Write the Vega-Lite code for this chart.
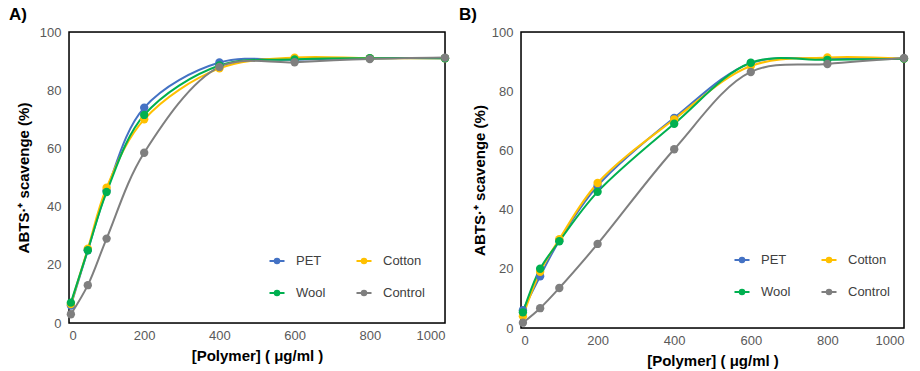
{
  "$schema": "https://vega.github.io/schema/vega-lite/v6.json",
  "padding": {"left": 8, "top": 5, "right": 5, "bottom": 2},
  "config": {
    "font": "Liberation Sans",
    "axis": {"grid": false, "ticks": false, "domain": false, "labelFontSize": 13, "labelColor": "#595959", "titleFontSize": 15, "titleFontWeight": "bold", "titleColor": "#000000", "labelFont": "Liberation Sans", "titleFont": "Liberation Sans"},
    "title": {"fontSize": 17, "fontWeight": "bold", "anchor": "start", "frame": "group", "color": "#000000"},
    "concat": {"spacing": 8}
  },
  "datasets": {
    "frame": [{"x0": 0, "x1": 1000, "y0": 0, "y1": 100}],
    "d": [
      {"panel": "A", "series": "PET", "x": 5, "y": 6},
      {"panel": "A", "series": "PET", "x": 50, "y": 25},
      {"panel": "A", "series": "PET", "x": 100, "y": 45.5},
      {"panel": "A", "series": "PET", "x": 200, "y": 74},
      {"panel": "A", "series": "PET", "x": 400, "y": 89.5},
      {"panel": "A", "series": "PET", "x": 600, "y": 90.5},
      {"panel": "A", "series": "PET", "x": 800, "y": 91},
      {"panel": "A", "series": "PET", "x": 1000, "y": 91},
      {"panel": "A", "series": "Cotton", "x": 5, "y": 6.5},
      {"panel": "A", "series": "Cotton", "x": 50, "y": 25.5},
      {"panel": "A", "series": "Cotton", "x": 100, "y": 46.5},
      {"panel": "A", "series": "Cotton", "x": 200, "y": 70},
      {"panel": "A", "series": "Cotton", "x": 400, "y": 87.5},
      {"panel": "A", "series": "Cotton", "x": 600, "y": 91.2},
      {"panel": "A", "series": "Cotton", "x": 800, "y": 91},
      {"panel": "A", "series": "Cotton", "x": 1000, "y": 91},
      {"panel": "A", "series": "Wool", "x": 5, "y": 7},
      {"panel": "A", "series": "Wool", "x": 50, "y": 25},
      {"panel": "A", "series": "Wool", "x": 100, "y": 45},
      {"panel": "A", "series": "Wool", "x": 200, "y": 71.5},
      {"panel": "A", "series": "Wool", "x": 400, "y": 88.5},
      {"panel": "A", "series": "Wool", "x": 600, "y": 90.6},
      {"panel": "A", "series": "Wool", "x": 800, "y": 91},
      {"panel": "A", "series": "Wool", "x": 1000, "y": 91},
      {"panel": "A", "series": "Control", "x": 5, "y": 3},
      {"panel": "A", "series": "Control", "x": 50, "y": 13},
      {"panel": "A", "series": "Control", "x": 100, "y": 29},
      {"panel": "A", "series": "Control", "x": 200, "y": 58.5},
      {"panel": "A", "series": "Control", "x": 400, "y": 88},
      {"panel": "A", "series": "Control", "x": 600, "y": 89.6},
      {"panel": "A", "series": "Control", "x": 800, "y": 90.7},
      {"panel": "A", "series": "Control", "x": 1000, "y": 91.2},
      {"panel": "B", "series": "PET", "x": 5, "y": 6},
      {"panel": "B", "series": "PET", "x": 50, "y": 17.5},
      {"panel": "B", "series": "PET", "x": 100, "y": 29.5},
      {"panel": "B", "series": "PET", "x": 200, "y": 48},
      {"panel": "B", "series": "PET", "x": 400, "y": 71},
      {"panel": "B", "series": "PET", "x": 600, "y": 89.5},
      {"panel": "B", "series": "PET", "x": 800, "y": 91},
      {"panel": "B", "series": "PET", "x": 1000, "y": 91},
      {"panel": "B", "series": "Cotton", "x": 5, "y": 4},
      {"panel": "B", "series": "Cotton", "x": 50, "y": 19},
      {"panel": "B", "series": "Cotton", "x": 100, "y": 30},
      {"panel": "B", "series": "Cotton", "x": 200, "y": 49},
      {"panel": "B", "series": "Cotton", "x": 400, "y": 70.5},
      {"panel": "B", "series": "Cotton", "x": 600, "y": 88.5},
      {"panel": "B", "series": "Cotton", "x": 800, "y": 91.4},
      {"panel": "B", "series": "Cotton", "x": 1000, "y": 91},
      {"panel": "B", "series": "Wool", "x": 5, "y": 5.3},
      {"panel": "B", "series": "Wool", "x": 50, "y": 20},
      {"panel": "B", "series": "Wool", "x": 100, "y": 29.3},
      {"panel": "B", "series": "Wool", "x": 200, "y": 46},
      {"panel": "B", "series": "Wool", "x": 400, "y": 69},
      {"panel": "B", "series": "Wool", "x": 600, "y": 89.6},
      {"panel": "B", "series": "Wool", "x": 800, "y": 90.6},
      {"panel": "B", "series": "Wool", "x": 1000, "y": 91},
      {"panel": "B", "series": "Control", "x": 5, "y": 1.8},
      {"panel": "B", "series": "Control", "x": 50, "y": 6.7},
      {"panel": "B", "series": "Control", "x": 100, "y": 13.5},
      {"panel": "B", "series": "Control", "x": 200, "y": 28.4},
      {"panel": "B", "series": "Control", "x": 400, "y": 60.4},
      {"panel": "B", "series": "Control", "x": 600, "y": 86.5},
      {"panel": "B", "series": "Control", "x": 800, "y": 89.2},
      {"panel": "B", "series": "Control", "x": 1000, "y": 91.2}
    ]
  },
  "hconcat": [
    {
      "title": {"text": "A)", "dx": -60, "offset": 2},
      "width": 376,
      "height": 291,
      "layer": [
        {"data": {"name": "frame"},
          "mark": {"type": "rect", "fill": "transparent", "stroke": "#000000", "strokeWidth": 1.5},
          "encoding": {
            "x": {"field": "x0", "type": "quantitative", "scale": {"domain": [0, 1000], "nice": false}, "axis": {"values": [0, 200, 400, 600, 800, 1000], "format": "d", "title": "[Polymer] ( μg/ml )", "labelPadding": 6, "titlePadding": 6}},
            "x2": {"field": "x1"},
            "y": {"field": "y0", "type": "quantitative", "scale": {"domain": [0, 100], "nice": false}, "axis": {"values": [0, 20, 40, 60, 80, 100], "title": "ABTS·⁺ scavenge (%)", "labelPadding": 8, "titlePadding": 8}},
            "y2": {"field": "y1"}
          }},
        {"data": {"name": "d"},
          "transform": [{"filter": "datum.panel === 'A'"}],
          "mark": {"type": "line", "interpolate": "catmull-rom", "strokeWidth": 2},
          "encoding": {
            "x": {"field": "x", "type": "quantitative"},
            "y": {"field": "y", "type": "quantitative"},
            "color": {"field": "series", "type": "nominal", "scale": {"domain": ["PET", "Cotton", "Wool", "Control"], "range": ["#4472C4", "#FFC000", "#00B050", "#7F7F7F"]},
            "legend": {"orient": "none", "legendX": 192, "legendY": 213, "columns": 2, "direction": "horizontal", "title": null, "labelFontSize": 13, "labelColor": "#404040", "symbolType": "M-0.5,0H0.5M-0.15,0A0.15,0.15 0 1,1 0.15,0A0.15,0.15 0 1,1 -0.15,0Z", "symbolSize": 900, "symbolStrokeWidth": 2, "rowPadding": 9, "columnPadding": 22, "labelOffset": 3,
              "encode": {"symbols": {"update": {"fill": {"scale": "color", "field": "value"}, "stroke": {"scale": "color", "field": "value"}}}}}}}},
        {"data": {"name": "d"},
          "transform": [{"filter": "datum.panel === 'A'"}],
          "mark": {"type": "circle", "size": 70, "opacity": 1},
          "encoding": {
            "x": {"field": "x", "type": "quantitative"},
            "y": {"field": "y", "type": "quantitative"},
            "color": {"field": "series", "type": "nominal", "scale": {"domain": ["PET", "Cotton", "Wool", "Control"], "range": ["#4472C4", "#FFC000", "#00B050", "#7F7F7F"]}}}}
      ]
    },
    {
      "title": {"text": "B)", "dx": -62, "offset": 2},
      "width": 383,
      "height": 296,
      "layer": [
        {"data": {"name": "frame"},
          "mark": {"type": "rect", "fill": "transparent", "stroke": "#000000", "strokeWidth": 1.5},
          "encoding": {
            "x": {"field": "x0", "type": "quantitative", "scale": {"domain": [0, 1000], "nice": false}, "axis": {"values": [0, 200, 400, 600, 800, 1000], "format": "d", "title": "[Polymer] ( μg/ml )", "labelPadding": 6, "titlePadding": 6}},
            "x2": {"field": "x1"},
            "y": {"field": "y0", "type": "quantitative", "scale": {"domain": [0, 100], "nice": false}, "axis": {"values": [0, 20, 40, 60, 80, 100], "title": "ABTS·⁺ scavenge (%)", "labelPadding": 8, "titlePadding": 4}},
            "y2": {"field": "y1"}
          }},
        {"data": {"name": "d"},
          "transform": [{"filter": "datum.panel === 'B'"}],
          "mark": {"type": "line", "interpolate": "catmull-rom", "strokeWidth": 2},
          "encoding": {
            "x": {"field": "x", "type": "quantitative"},
            "y": {"field": "y", "type": "quantitative"},
            "color": {"field": "series", "type": "nominal", "scale": {"domain": ["PET", "Cotton", "Wool", "Control"], "range": ["#4472C4", "#FFC000", "#00B050", "#7F7F7F"]},
            "legend": {"orient": "none", "legendX": 205, "legendY": 212, "columns": 2, "direction": "horizontal", "title": null, "labelFontSize": 13, "labelColor": "#404040", "symbolType": "M-0.5,0H0.5M-0.15,0A0.15,0.15 0 1,1 0.15,0A0.15,0.15 0 1,1 -0.15,0Z", "symbolSize": 900, "symbolStrokeWidth": 2, "rowPadding": 9, "columnPadding": 22, "labelOffset": 3,
              "encode": {"symbols": {"update": {"fill": {"scale": "color", "field": "value"}, "stroke": {"scale": "color", "field": "value"}}}}}}}},
        {"data": {"name": "d"},
          "transform": [{"filter": "datum.panel === 'B'"}],
          "mark": {"type": "circle", "size": 70, "opacity": 1},
          "encoding": {
            "x": {"field": "x", "type": "quantitative"},
            "y": {"field": "y", "type": "quantitative"},
            "color": {"field": "series", "type": "nominal", "scale": {"domain": ["PET", "Cotton", "Wool", "Control"], "range": ["#4472C4", "#FFC000", "#00B050", "#7F7F7F"]}}}}
      ]
    }
  ],
  "resolve": {"scale": {"color": "independent"}, "legend": {"color": "independent"}}
}
